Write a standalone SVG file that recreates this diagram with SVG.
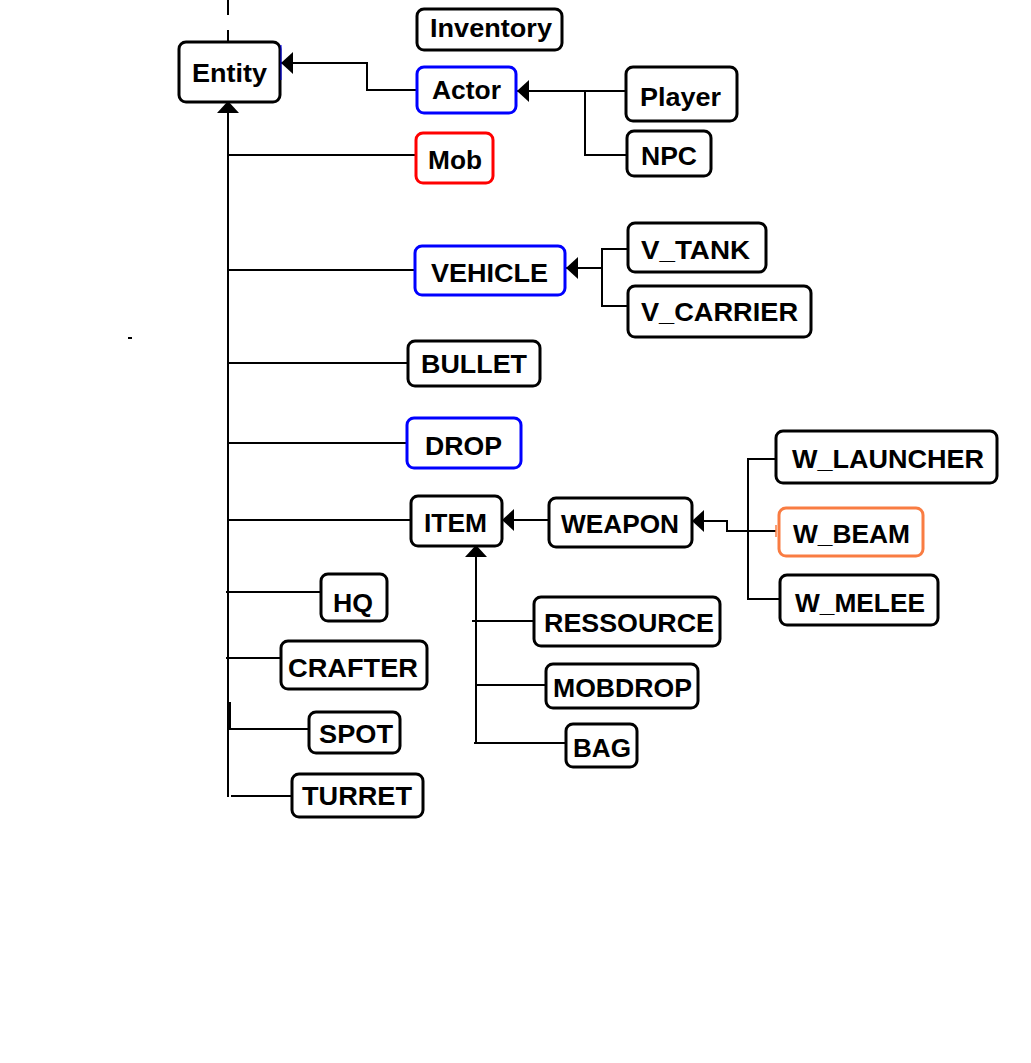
<svg xmlns="http://www.w3.org/2000/svg" width="1031" height="1063" viewBox="0 0 1031 1063">
<style>
.box{fill:#fff;stroke:#000;stroke-width:3}
.blue{stroke:#0000ff}
.red{stroke:#ff0000}
.orange{stroke:#f97c42}
.lbl{font-family:"Liberation Sans",Arial,sans-serif;font-weight:bold;font-size:26px;fill:#000}
.ln{fill:none;stroke:#000;stroke-width:2}
</style>
<defs>
<marker id="arr" viewBox="0 0 12 22" refX="12" refY="11" markerWidth="12" markerHeight="22" markerUnits="userSpaceOnUse" orient="auto">
<path d="M0,0 L12,11 L0,22 Z" fill="#000"/>
</marker>
</defs>
<rect width="1031" height="1063" fill="#fff"/>
<g id="connectors">
<path class="ln" d="M228,0 V15 M228,30 V42"/>
<path class="ln" d="M128,338 H132" stroke-width="1"/>
<path class="ln" d="M417,90 H367 V63 H281" marker-end="url(#arr)"/>
<path class="ln" d="M626,91 H517" marker-end="url(#arr)"/>
<path class="ln" d="M585,91 V155 H627"/>
<path class="ln" d="M228,797 V101" marker-end="url(#arr)"/>
<path class="ln" d="M228,155 H416 M228,270 H415 M228,363 H408 M228,443 H407 M228,520 H411 M226,592 H321 M226,658 H281 M229,729 H309 M231,796 H292"/>
<path class="ln" d="M230,702 V730"/>
<path class="ln" d="M628,249 H602 V306 H628"/>
<path class="ln" d="M602,268 H566" marker-end="url(#arr)"/>
<path class="ln" d="M549,520 H502" marker-end="url(#arr)"/>
<path class="ln" d="M776,531 H727 V521 H692" marker-end="url(#arr)"/>
<path class="ln" d="M776,459 H748 V599 H780"/>
<path d="M776,525 V537" stroke="#f97c42" stroke-width="1.5"/>
<path class="ln" d="M476,743 V545" marker-end="url(#arr)"/>
<path class="ln" d="M472,621 H534 M476,685 H546 M474,743 H566"/>
</g>
<g id="Entity"><rect class="box" x="179" y="42" width="101" height="60" rx="7"/><path d="M281,45 V80" stroke="#0000ff" stroke-width="1"/><text class="lbl" x="192" y="82" textLength="75" lengthAdjust="spacingAndGlyphs">Entity</text></g>
<g id="Inventory"><rect class="box" x="417" y="9" width="145" height="41" rx="7"/><text class="lbl" x="430" y="37" textLength="122" lengthAdjust="spacingAndGlyphs">Inventory</text></g>
<g id="Actor"><rect class="box blue" x="417" y="67" width="99" height="46" rx="7"/><text class="lbl" x="432" y="99" textLength="69" lengthAdjust="spacingAndGlyphs">Actor</text></g>
<g id="Player"><rect class="box" x="626" y="67" width="111" height="54" rx="7"/><text class="lbl" x="640" y="106" textLength="81" lengthAdjust="spacingAndGlyphs">Player</text></g>
<g id="NPC"><rect class="box" x="627" y="131" width="84" height="45" rx="7"/><text class="lbl" x="641" y="165" textLength="56" lengthAdjust="spacingAndGlyphs">NPC</text></g>
<g id="Mob"><rect class="box red" x="416" y="133" width="77" height="50" rx="7"/><text class="lbl" x="428" y="169" textLength="54" lengthAdjust="spacingAndGlyphs">Mob</text></g>
<g id="VEHICLE"><rect class="box blue" x="415" y="246" width="150" height="49" rx="7"/><text class="lbl" x="431" y="282" textLength="117" lengthAdjust="spacingAndGlyphs">VEHICLE</text></g>
<g id="V_TANK"><rect class="box" x="628" y="223" width="138" height="49" rx="7"/><text class="lbl" x="641" y="259" textLength="109" lengthAdjust="spacingAndGlyphs">V_TANK</text></g>
<g id="V_CARRIER"><rect class="box" x="628" y="286" width="183" height="51" rx="7"/><text class="lbl" x="641" y="321" textLength="157" lengthAdjust="spacingAndGlyphs">V_CARRIER</text></g>
<g id="BULLET"><rect class="box" x="408" y="341" width="132" height="45" rx="7"/><text class="lbl" x="421" y="373" textLength="106" lengthAdjust="spacingAndGlyphs">BULLET</text></g>
<g id="DROP"><rect class="box blue" x="407" y="418" width="114" height="50" rx="7"/><text class="lbl" x="425" y="455" textLength="77" lengthAdjust="spacingAndGlyphs">DROP</text></g>
<g id="ITEM"><rect class="box" x="411" y="496" width="91" height="50" rx="7"/><text class="lbl" x="424" y="532" textLength="63" lengthAdjust="spacingAndGlyphs">ITEM</text></g>
<g id="WEAPON"><rect class="box" x="549" y="498" width="143" height="49" rx="7"/><text class="lbl" x="561" y="533" textLength="118" lengthAdjust="spacingAndGlyphs">WEAPON</text></g>
<g id="W_LAUNCHER"><rect class="box" x="776" y="431" width="221" height="52" rx="7"/><text class="lbl" x="792" y="468" textLength="192" lengthAdjust="spacingAndGlyphs">W_LAUNCHER</text></g>
<g id="W_BEAM"><rect class="box orange" x="779" y="508" width="144" height="48" rx="7"/><text class="lbl" x="793" y="543" textLength="117" lengthAdjust="spacingAndGlyphs">W_BEAM</text></g>
<g id="W_MELEE"><rect class="box" x="780" y="575" width="158" height="50" rx="7"/><text class="lbl" x="795" y="612" textLength="130" lengthAdjust="spacingAndGlyphs">W_MELEE</text></g>
<g id="RESSOURCE"><rect class="box" x="534" y="597" width="186" height="49" rx="7"/><text class="lbl" x="544" y="632" textLength="170" lengthAdjust="spacingAndGlyphs">RESSOURCE</text></g>
<g id="MOBDROP"><rect class="box" x="546" y="664" width="152" height="44" rx="7"/><text class="lbl" x="553" y="697" textLength="139" lengthAdjust="spacingAndGlyphs">MOBDROP</text></g>
<g id="BAG"><rect class="box" x="566" y="724" width="71" height="43" rx="7"/><text class="lbl" x="573" y="757" textLength="58" lengthAdjust="spacingAndGlyphs">BAG</text></g>
<g id="HQ"><rect class="box" x="321" y="574" width="66" height="47" rx="7"/><text class="lbl" x="333" y="612" textLength="40" lengthAdjust="spacingAndGlyphs">HQ</text></g>
<g id="CRAFTER"><rect class="box" x="281" y="641" width="146" height="48" rx="7"/><text class="lbl" x="288" y="677" textLength="130" lengthAdjust="spacingAndGlyphs">CRAFTER</text></g>
<g id="SPOT"><rect class="box" x="309" y="712" width="91" height="41" rx="7"/><text class="lbl" x="319" y="743" textLength="74" lengthAdjust="spacingAndGlyphs">SPOT</text></g>
<g id="TURRET"><rect class="box" x="292" y="774" width="131" height="43" rx="7"/><text class="lbl" x="302" y="805" textLength="110" lengthAdjust="spacingAndGlyphs">TURRET</text></g>
</svg>
